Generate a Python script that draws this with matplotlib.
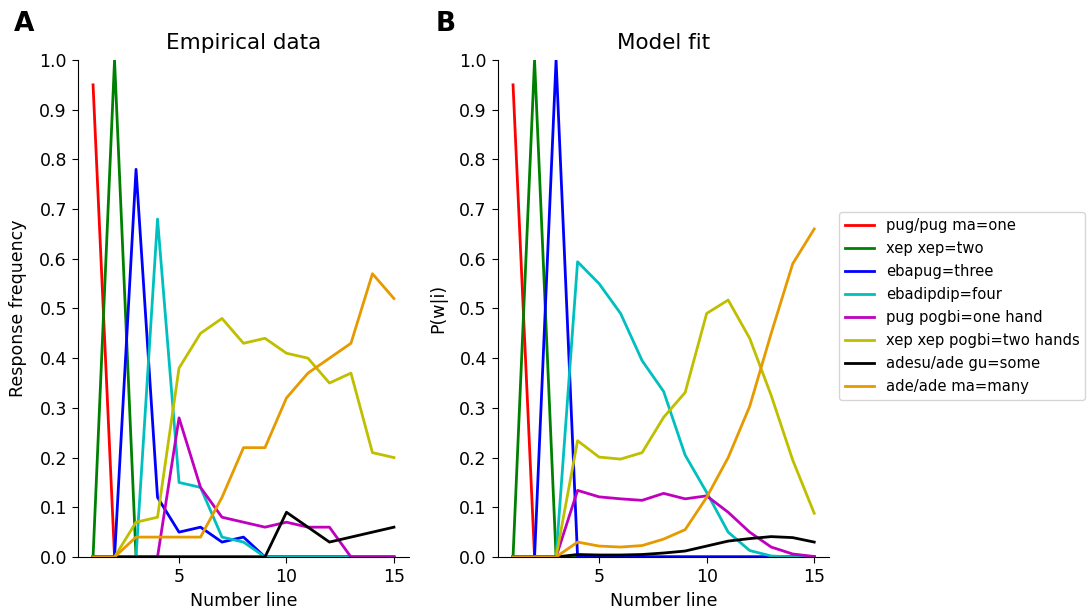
import matplotlib
matplotlib.use('Agg')
import matplotlib.pyplot as plt
import numpy as np

number_line = list(range(1, 16))

labels = ['pug/pug ma=one', 'xep xep=two', 'ebapug=three', 'ebadipdip=four',
          'pug pogbi=one hand', 'xep xep pogbi=two hands', 'adesu/ade gu=some',
          'ade/ade ma=many']
colors = ['r', 'g', 'b', 'c', 'm', 'y', 'k', '#E69A00']

# empirical response frequencies (panel A)
emp_one = [0.95, 0, 0, 0, 0, 0, 0, 0, 0, 0, 0, 0, 0, 0, 0]
emp_two = [0, 1.0, 0, 0, 0, 0, 0, 0, 0, 0, 0, 0, 0, 0, 0]
emp_three = [0, 0, 0.78, 0.12, 0.05, 0.06, 0.03, 0.04, 0, 0, 0, 0, 0, 0, 0]
emp_four = [0, 0, 0, 0.68, 0.15, 0.14, 0.04, 0.03, 0, 0, 0, 0, 0, 0, 0]
emp_one_hand = [0, 0, 0, 0, 0.28, 0.14, 0.08, 0.07, 0.06, 0.07, 0.06, 0.06, 0, 0, 0]
emp_two_hands = [0, 0, 0.07, 0.08, 0.38, 0.45, 0.48, 0.43, 0.44, 0.41, 0.40, 0.35, 0.37, 0.21, 0.20]
emp_some = [0, 0, 0, 0, 0, 0, 0, 0, 0, 0.09, 0.06, 0.03, 0.04, 0.05, 0.06]
emp_many = [0, 0, 0.04, 0.04, 0.04, 0.04, 0.12, 0.22, 0.22, 0.32, 0.37, 0.40, 0.43, 0.57, 0.52]

# model predictions P(w|i) (panel B)
mod_one = [0.95, 0, 0, 0, 0, 0, 0, 0, 0, 0, 0, 0, 0, 0, 0]
mod_two = [0, 1.0, 0, 0, 0, 0, 0, 0, 0, 0, 0, 0, 0, 0, 0]
mod_three = [0, 0, 1.0, 0, 0, 0, 0, 0, 0, 0, 0, 0, 0, 0, 0]
mod_four = [0, 0, 0, 0.594, 0.55, 0.49, 0.395, 0.333, 0.205, 0.13, 0.05, 0.013, 0.002, 0, 0]
mod_one_hand = [0, 0, 0, 0.134, 0.121, 0.117, 0.114, 0.128, 0.117, 0.123, 0.09, 0.05, 0.02, 0.006, 0.001]
mod_two_hands = [0, 0, 0, 0.234, 0.201, 0.197, 0.21, 0.281, 0.331, 0.49, 0.517, 0.44, 0.325, 0.195, 0.088]
mod_some = [0, 0, 0, 0.005, 0.004, 0.004, 0.005, 0.008, 0.012, 0.022, 0.032, 0.037, 0.041, 0.039, 0.03]
mod_many = [0, 0, 0, 0.03, 0.022, 0.02, 0.023, 0.036, 0.055, 0.12, 0.2, 0.303, 0.45, 0.59, 0.66]

empirical = [emp_one, emp_two, emp_three, emp_four, emp_one_hand, emp_two_hands, emp_some, emp_many]
model = [mod_one, mod_two, mod_three, mod_four, mod_one_hand, mod_two_hands, mod_some, mod_many]

plt.rcParams['font.family'] = ['DejaVu Sans']
plt.rcParams['xtick.labelsize'] = 12.5
plt.rcParams['ytick.labelsize'] = 12.5
plt.rcParams['xtick.major.size'] = 4.5
plt.rcParams['ytick.major.size'] = 4.5

fig = plt.figure(figsize=(10.88, 6.16), dpi=100)
ax1 = fig.add_axes([0.0717, 0.0958, 0.3042, 0.8068])
ax2 = fig.add_axes([0.4577, 0.0958, 0.3045, 0.8068])

for ax, data, title, ylab in [(ax1, empirical, 'Empirical data', 'Response frequency'),
                              (ax2, model, 'Model fit', 'P(w|i)')]:
    for vals, c, lab in zip(data, colors, labels):
        ax.plot(number_line, vals, color=c, lw=2, label=lab)
    ax.set_ylim(0, 1)
    ax.set_yticks(np.arange(0, 1.01, 0.1))
    ax.set_xticks([5, 10, 15])
    ax.set_title(title, fontsize=15.5, pad=8)
    ax.set_xlabel('Number line', fontsize=12.5, labelpad=4)
    ax.set_ylabel(ylab, fontsize=12.5, labelpad=8.5)
    ax.spines['top'].set_visible(False)
    ax.spines['right'].set_visible(False)

ax2.legend(loc='center left', bbox_to_anchor=(1.006, 0.505), fontsize=10.6,
           handlelength=2.0, labelspacing=0.55)

fig.text(0.013, 0.95, 'A', fontsize=19, fontweight='bold')
fig.text(0.400, 0.95, 'B', fontsize=19, fontweight='bold')

fig.savefig('out.png', dpi=100)
